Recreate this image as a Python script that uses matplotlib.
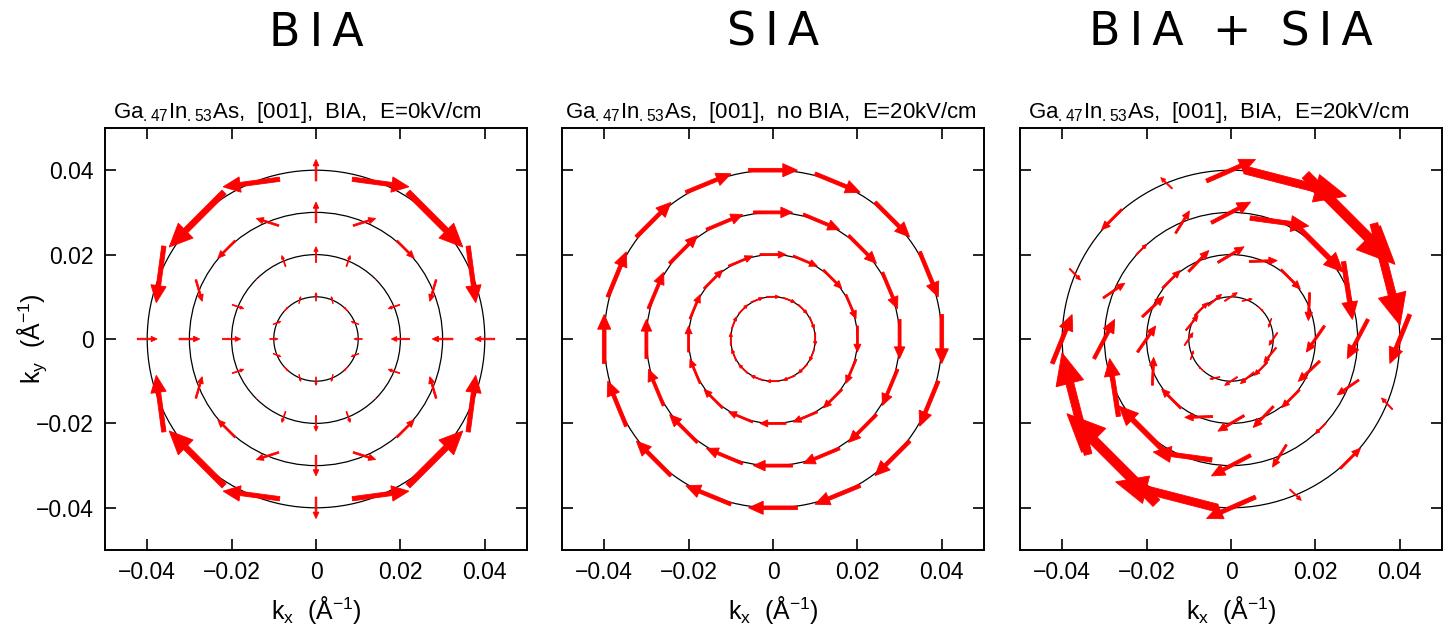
import numpy as np
import matplotlib.pyplot as plt
from matplotlib.patches import Circle

plt.rcParams['font.family'] = ['Liberation Sans', 'DejaVu Sans']
plt.rcParams['mathtext.default'] = 'regular'

# positions of the arrows: 4 rings, 16 directions each
radii = [0.01, 0.02, 0.03, 0.04]
angles_deg = [0, 22.5, 45, 67.5, 90, 112.5, 135, 157.5,
              180, 202.5, 225, 247.5, 270, 292.5, 315, 337.5]

# spin field vectors (u, v), in units of 1e-3 1/A
# panel 1: BIA, E = 0
bia_r1 = [(-2.0, 0), (-1.8, 0.7), (-1.0, 1.0), (-0.4, 1.6), (0, 2.0), (0.4, 1.6), (1.0, 1.0), (1.8, 0.7),
          (2.0, 0), (1.8, -0.7), (1.0, -1.0), (0.4, -1.6), (0, -2.0), (-0.4, -1.6), (-1.0, -1.0), (-1.8, -0.7)]
bia_r2 = [(-4.3, 0), (-2.7, -0.9), (0.2, -0.2), (0.9, 2.6), (0, 3.7), (-0.9, 2.6), (-0.2, -0.2), (2.7, -0.9),
          (4.3, 0), (2.7, 0.9), (-0.2, 0.2), (-0.9, -2.6), (0, -3.7), (0.9, -2.6), (0.2, 0.2), (-2.7, 0.9)]
bia_r3 = [(-4.9, 0), (-1.5, -5.1), (4.1, -4.1), (5.3, 1.7), (0, 4.9), (-5.3, 1.7), (-4.1, -4.1), (1.5, -5.1),
          (4.9, 0), (1.5, 5.1), (-4.1, 4.1), (-5.3, -1.7), (0, -4.9), (5.3, -1.7), (4.1, 4.1), (-1.5, 5.1)]
bia_r4 = [(-4.7, 0), (1.8, -13.4), (13.0, -13.0), (13.4, -1.8), (0, 5.1), (-13.4, -1.8), (-13.0, -13.0), (-1.8, -13.4),
          (4.7, 0), (-1.8, 13.4), (-13.0, 13.0), (-13.4, 1.8), (0, -5.1), (13.4, 1.8), (13.0, 13.0), (1.8, 13.4)]

# panel 2: SIA only, E = 20 kV/cm
sia_r1 = [(0, -3.0), (1.1, -2.8), (2.1, -2.1), (2.8, -1.1), (3.0, 0), (2.8, 1.1), (2.1, 2.1), (1.1, 2.8),
          (0, 3.0), (-1.1, 2.8), (-2.1, 2.1), (-2.8, 1.1), (-3.0, 0), (-2.8, -1.1), (-2.1, -2.1), (-1.1, -2.8)]
sia_r2 = [(0, -6.2), (2.4, -5.7), (4.4, -4.4), (5.7, -2.4), (6.2, 0), (5.7, 2.4), (4.4, 4.4), (2.4, 5.7),
          (0, 6.2), (-2.4, 5.7), (-4.4, 4.4), (-5.7, 2.4), (-6.2, 0), (-5.7, -2.4), (-4.4, -4.4), (-2.4, -5.7)]
sia_r3 = [(0, -9.3), (3.6, -8.6), (6.6, -6.6), (8.6, -3.6), (9.3, 0), (8.6, 3.6), (6.6, 6.6), (3.6, 8.6),
          (0, 9.3), (-3.6, 8.6), (-6.6, 6.6), (-8.6, 3.6), (-9.3, 0), (-8.6, -3.6), (-6.6, -6.6), (-3.6, -8.6)]
sia_r4 = [(0, -11.6), (4.4, -10.7), (8.2, -8.2), (10.7, -4.4), (11.6, 0), (10.7, 4.4), (8.2, 8.2), (4.4, 10.7),
          (0, 11.6), (-4.4, 10.7), (-8.2, 8.2), (-10.7, 4.4), (-11.6, 0), (-10.7, -4.4), (-8.2, -8.2), (-4.4, -10.7)]

# panel 3: BIA + SIA, E = 20 kV/cm
both_r1 = [(-2.0, -3.0), (-0.7, -2.1), (1.1, -1.1), (2.4, 0.5), (3.0, 2.0), (3.2, 2.7), (3.1, 3.1), (2.9, 3.5),
           (2.0, 3.0), (0.7, 2.1), (-1.1, 1.1), (-2.4, -0.5), (-3.0, -2.0), (-3.2, -2.7), (-3.1, -3.1), (-2.9, -3.5)]
both_r2 = [(-4.3, -6.2), (-0.3, -6.6), (4.6, -4.6), (6.6, 0.2), (6.2, 3.7), (4.8, 5.0), (4.2, 4.2), (5.1, 4.8),
           (4.3, 6.2), (0.3, 6.6), (-4.6, 4.6), (-6.6, -0.2), (-6.2, -3.7), (-4.8, -5.0), (-4.2, -4.2), (-5.1, -4.8)]
both_r3 = [(-4.9, -9.3), (2.1, -13.7), (10.7, -10.7), (13.9, -1.9), (9.3, 4.9), (3.3, 5.3), (2.5, 2.5), (5.1, 3.5),
           (4.9, 9.3), (-2.1, 13.7), (-10.7, 10.7), (-13.9, 1.9), (-9.3, -4.9), (-3.3, -5.3), (-2.5, -2.5), (-5.1, -3.5)]
both_r4 = [(-4.7, -11.6), (6.2, -24.1), (21.2, -21.2), (24.1, -6.2), (11.6, 5.1), (-2.7, 2.6), (-4.8, -4.8), (2.6, -2.7),
           (4.7, 11.6), (-6.2, 24.1), (-21.2, 21.2), (-24.1, 6.2), (-11.6, -5.1), (2.7, -2.6), (4.8, 4.8), (-2.6, 2.7)]

panel_titles = ['B\u2009I\u2009A', 'S\u2009I\u2009A', 'B\u2009I\u2009A  +  S\u2009I\u2009A']
panel_subtitles = ['Ga$_{.47}$In$_{.53}$As,  [001],  BIA,  E=0kV/cm',
                   'Ga$_{.47}$In$_{.53}$As,  [001],  no BIA,  E=20kV/cm',
                   'Ga$_{.47}$In$_{.53}$As,  [001],  BIA,  E=20kV/cm']
panel_fields = [[bia_r1, bia_r2, bia_r3, bia_r4],
                [sia_r1, sia_r2, sia_r3, sia_r4],
                [both_r1, both_r2, both_r3, both_r4]]

tick_vals = [-0.04, -0.02, 0, 0.02, 0.04]
tick_labels = ['\u22120.04', '\u22120.02', '0', '0.02', '0.04']

fig = plt.figure(figsize=(14.56, 6.26), dpi=100)
lefts = [105, 562, 1020]
sub_x = [0.02, 0.008, 0.018]

for i in range(3):
    ax = fig.add_axes([lefts[i] / 1456, 1 - 550 / 626, 422 / 1456, 422 / 626])
    ax.set_xlim(-0.05, 0.05)
    ax.set_ylim(-0.05, 0.05)

    # the constant-energy circles
    for r in radii:
        ax.add_patch(Circle((0, 0), r, fill=False, color='black', lw=0.9, zorder=1))

    # arrows centred on the circle points, thickness grows with length
    for r, vecs in zip(radii, panel_fields[i]):
        for a, (u, v) in zip(angles_deg, vecs):
            u, v = u * 1e-3, v * 1e-3
            L = np.hypot(u, v)
            if L < 1e-5:
                continue
            x0 = r * np.cos(np.radians(a)) - u / 2
            y0 = r * np.sin(np.radians(a)) - v / 2
            ax.arrow(x0, y0, u, v, width=0.075 * L, head_width=0.27 * L,
                     head_length=0.3 * L, length_includes_head=True,
                     fc='red', ec='red', lw=0.6, zorder=3)

    ax.set_xticks(tick_vals)
    ax.set_xticklabels(tick_labels)
    ax.set_yticks(tick_vals)
    if i == 0:
        ax.set_yticklabels(tick_labels)
        ax.set_ylabel('k$_y$  (Å$^{-1}$)', fontsize=18, labelpad=-9)
    else:
        ax.set_yticklabels([])
    ax.set_xlabel('k$_x$  (Å$^{-1}$)', fontsize=18, labelpad=7)
    ax.tick_params(direction='in', length=8, width=1.2, labelsize=16.5,
                   top=True, right=True, pad=8)
    for s in ax.spines.values():
        s.set_linewidth(1.4)

    # small subtitle, left aligned above the box
    ax.text(sub_x[i], 1.008, panel_subtitles[i], transform=ax.transAxes,
            fontsize=16, ha='left', va='bottom')
    fig.text((lefts[i] + 211) / 1456, 1 - 33 / 626, panel_titles[i],
             family='DejaVu Sans', fontsize=33, ha='center', va='center')

plt.savefig('out.png', dpi=100)
